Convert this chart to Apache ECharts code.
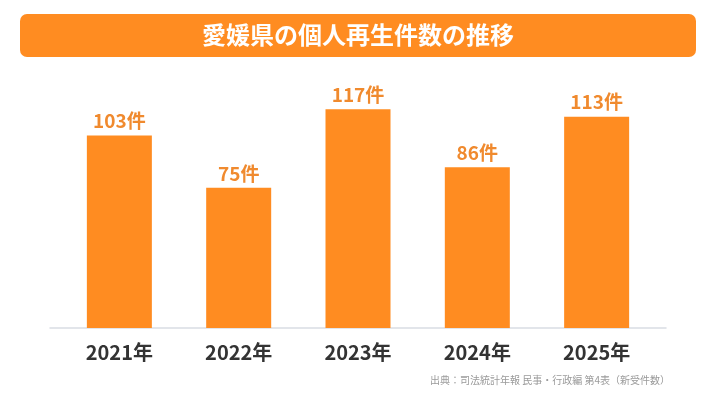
<!DOCTYPE html>
<html>
<head>
<meta charset="utf-8">
<script src="https://cdn.jsdelivr.net/npm/echarts@6/dist/echarts.min.js"></script>
<style>
  html, body { margin: 0; padding: 0; background: #fff; }
  #chart { width: 716px; height: 403px; }
</style>
</head>
<body>
<div id="chart"></div>
<script>
var titleText = '愛媛県の個人再生件数の推移';
var sourceText = '出典：司法統計年報 民事・行政編 第4表（新受件数）';
var years = ['2021年', '2022年', '2023年', '2024年', '2025年'];
var counts = [103, 75, 117, 86, 113];

var orange = '#FF8C21';
var font = '"Noto Sans CJK JP", "Noto Sans", sans-serif';

var myChart = echarts.init(document.getElementById('chart'));

var option = {
    backgroundColor: '#fff',
    animation: false,
    title: {
        text: titleText,
        left: 'center',
        top: 18,
        textStyle: {
            color: '#fff',
            fontSize: 24,
            fontWeight: 'bold',
            fontFamily: font
        }
    },
    graphic: [
        {
            type: 'rect',
            z: -1,
            shape: { x: 20, y: 14, width: 676, height: 43, r: 7 },
            style: { fill: orange }
        },
        {
            type: 'text',
            right: 46,
            top: 375,
            style: {
                text: sourceText,
                fill: '#9a9a9a',
                fontSize: 10,
                fontFamily: font
            }
        }
    ],
    grid: [
        { left: 59.7, right: 59.7, top: 85, bottom: 75 },
        // wider grid only for the baseline
        { left: 50, right: 50, top: 85, bottom: 75 }
    ],
    xAxis: [
        {
            type: 'category',
            gridIndex: 0,
            data: years,
            axisLine: { show: false },
            axisTick: { show: false },
            axisLabel: {
                margin: 14,
                color: '#333',
                fontSize: 20,
                fontWeight: 'bold',
                fontFamily: font
            }
        },
        {
            type: 'category',
            gridIndex: 1,
            data: [''],
            axisLine: { show: true, lineStyle: { color: '#d9dde3', width: 1.5 } },
            axisTick: { show: false },
            axisLabel: { show: false }
        }
    ],
    yAxis: [
        {
            type: 'value',
            gridIndex: 0,
            min: 0,
            max: 130,
            show: false,
            splitLine: { show: false }
        },
        {
            type: 'value',
            gridIndex: 1,
            show: false,
            splitLine: { show: false }
        }
    ],
    series: [
        {
            type: 'bar',
            xAxisIndex: 0,
            yAxisIndex: 0,
            data: counts,
            barWidth: 65,
            itemStyle: { color: orange },
            label: {
                show: true,
                position: 'top',
                distance: 5,
                formatter: '{c}件',
                color: '#F08A2E',
                fontSize: 19,
                fontWeight: 'bold',
                fontFamily: font
            }
        }
    ]
};

myChart.setOption(option);
</script>
</body>
</html>
